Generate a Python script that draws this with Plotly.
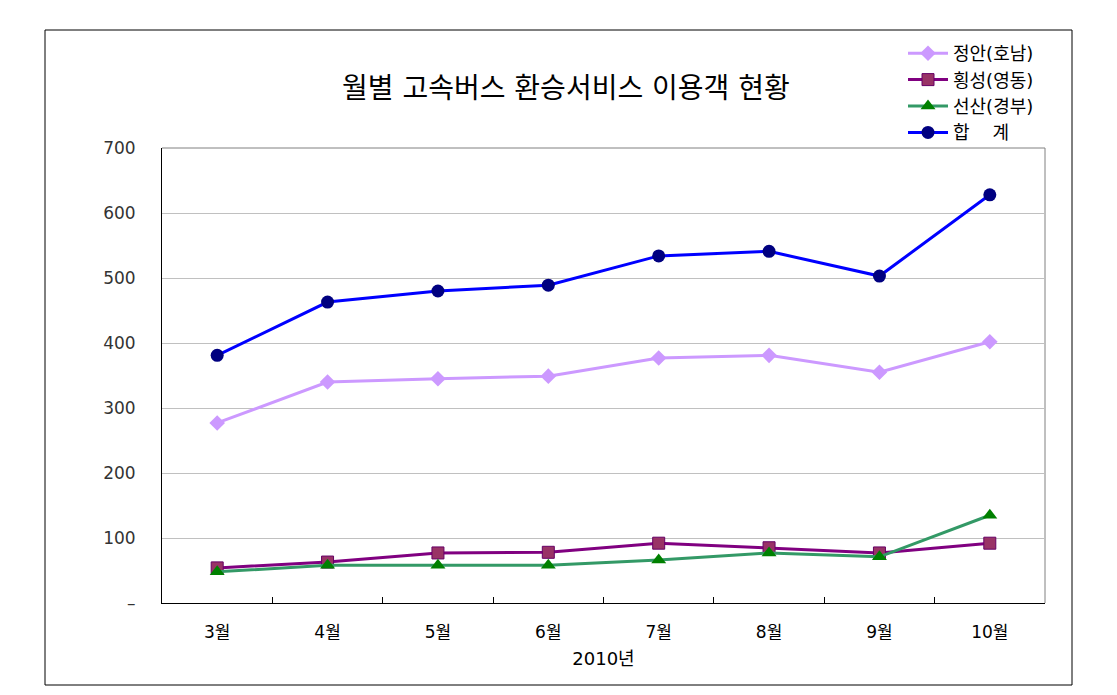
import plotly.graph_objects as go

months = ["3월", "4월", "5월", "6월", "7월", "8월", "9월", "10월"]
jeongan = [277, 340, 345, 349, 377, 381, 355, 402]
hoengseong = [54, 63, 77, 78, 92, 85, 77, 92]
seonsan = [48, 58, 58, 58, 66, 77, 71, 135]
total = [381, 463, 480, 489, 534, 541, 503, 628]
y_ticks = [0, 100, 200, 300, 400, 500, 600, 700]
y_ticktext = ["–", "100", "200", "300", "400", "500", "600", "700"]

FONT = "DejaVu Sans, Noto Sans CJK KR, sans-serif"

fig = go.Figure()
fig.add_trace(go.Scatter(x=months, y=jeongan, name="정안(호남)", mode="lines+markers",
                         line=dict(color="#CC99FF", width=3),
                         marker=dict(symbol="diamond", size=12, color="#CC99FF")))
fig.add_trace(go.Scatter(x=months, y=hoengseong, name="횡성(영동)", mode="lines+markers",
                         line=dict(color="#800080", width=3),
                         marker=dict(symbol="square", size=12, color="#993366",
                                     line=dict(color="#660066", width=1))))
fig.add_trace(go.Scatter(x=months, y=seonsan, name="선산(경부)", mode="lines+markers",
                         line=dict(color="#339966", width=3),
                         marker=dict(symbol="triangle-up", size=13, color="#008000")))
fig.add_trace(go.Scatter(x=months, y=total, name="합\u00a0\u00a0\u00a0\u00a0계", mode="lines+markers",
                         line=dict(color="#0000FF", width=3),
                         marker=dict(symbol="circle", size=13, color="#000080")))

OFF = 8  # page body margin
L, R, T, B = 162, 1045, 148, 603
W, H = 1117, 695
pw, ph = R - L, B - T

def px(x):
    return (x - L) / pw

def py(y):
    return (B - y) / ph

fig.update_layout(
    width=W, height=H,
    margin=dict(l=L - OFF, r=W - R + OFF, t=T - OFF, b=H - B + OFF),
    paper_bgcolor="white", plot_bgcolor="white",
    font=dict(family=FONT, size=17, color="#000"),
    showlegend=True,
    legend=dict(x=px(903), y=py(35), xanchor="left", yanchor="top",
                font=dict(size=18, family=FONT), bgcolor="rgba(0,0,0,0)",
                itemwidth=40, tracegroupgap=0),
    xaxis=dict(type="category", range=[-0.5, 7.5], tickson="boundaries",
               ticks="inside", ticklen=6, tickcolor="#000",
               showline=True, linecolor="#000", linewidth=1, mirror=False,
               showgrid=False, tickfont=dict(size=17, color="#000"),
               ticklabelstandoff=14,
               title=dict(text="2010년", font=dict(size=18, color="#000"), standoff=10)),
    yaxis=dict(range=[0, 700], tickvals=y_ticks, ticktext=y_ticktext,
               showline=True, linecolor="#000", linewidth=1, mirror=False,
               showgrid=True, gridcolor="#C0C0C0", gridwidth=1, zeroline=False,
               ticks="", ticklabelstandoff=22, tickfont=dict(size=17, color="#333")),
    annotations=[dict(text="월별 고속버스 환승서비스 이용객 현황", xref="paper", yref="paper",
                      x=px(566), y=py(88), xanchor="center", yanchor="middle",
                      showarrow=False, font=dict(size=28, family=FONT, color="#000"))],
    shapes=[
        dict(type="rect", xref="paper", yref="paper",
             x0=px(45), x1=px(1072), y0=py(685), y1=py(30),
             line=dict(color="#000", width=1), layer="below"),
        dict(type="line", xref="paper", yref="paper", x0=0, x1=1, y0=1, y1=1,
             line=dict(color="#808080", width=1), layer="below"),
        dict(type="line", xref="paper", yref="paper", x0=1, x1=1, y0=0, y1=1,
             line=dict(color="#808080", width=1), layer="below"),
    ],
)

fig.write_html("out.html")
